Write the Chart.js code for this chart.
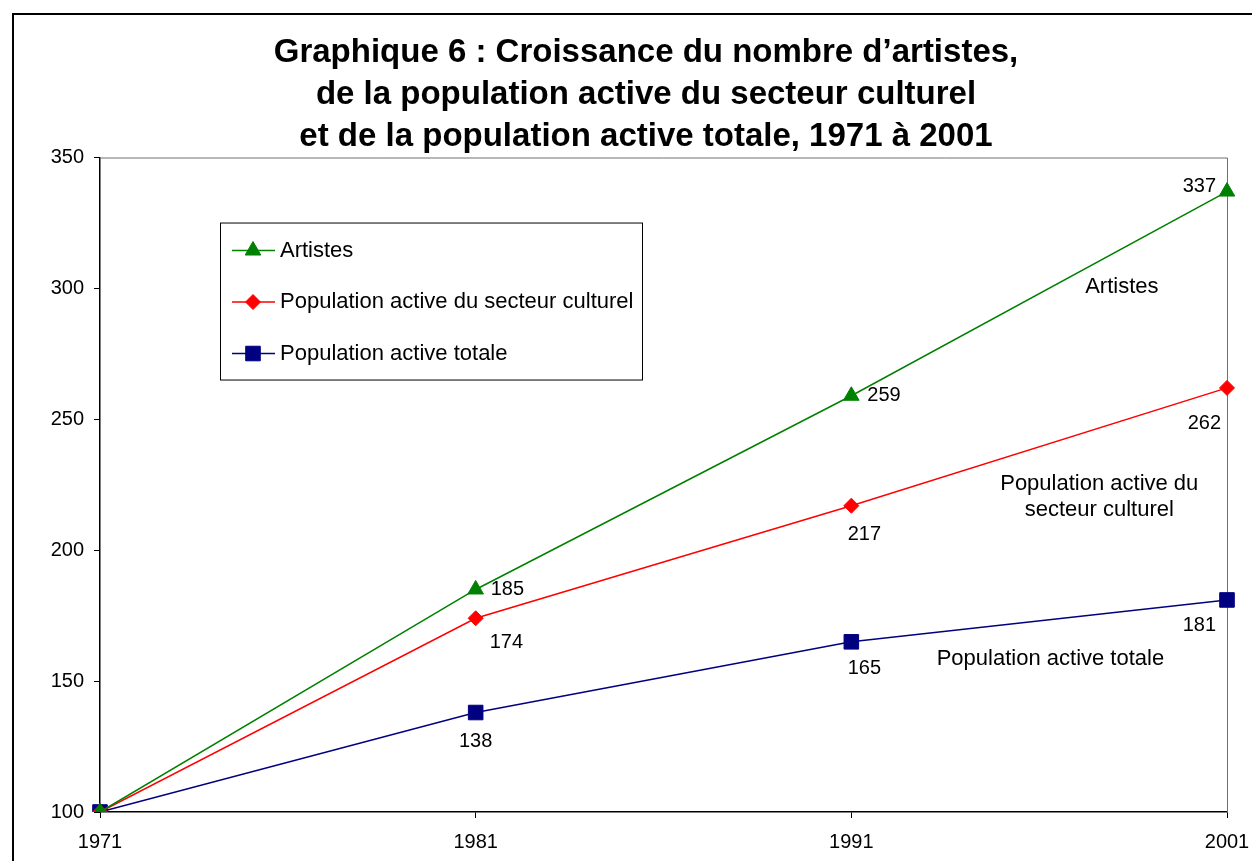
<!DOCTYPE html>
<html lang="fr">
<head>
<meta charset="UTF-8">
<title>Graphique 6 : Croissance du nombre d'artistes</title>
<script src="https://cdn.jsdelivr.net/npm/chart.js"></script>
<style>
  html, body { margin: 0; padding: 0; background: #fff; overflow: hidden; }
  /* outer frame runs off the right and bottom edges like in the original */
  .frame {
    position: absolute;
    left: 12px;
    top: 13px;
    width: 1268px;
    height: 900px;
    border: 2px solid #000;
  }
</style>
</head>
<body>
<div class="frame"><canvas id="chart" width="1268" height="900"></canvas></div>
<script>
// data
const years = ['1971', '1981', '1991', '2001'];
const artistes = [100, 185, 259, 337];
const secteurCulturel = [100, 174, 217, 262];
const populationTotale = [100, 138, 165, 181];
const yMin = 100, yMax = 350, yStep = 50;

const FONT = "'Liberation Sans', Arial, sans-serif";

// where each value label sits relative to its point: [dx, dy, align]
const labelsArtistes = [null, [15, 0, 'left'], [16, 0, 'left'], [-11, -5, 'right']];
const labelsCulturel = [null, [14, 24, 'left'], [13, 29, 'center'], [-6, 36, 'right']];
const labelsTotale = [null, [0, 29, 'center'], [13, 27, 'center'], [-11, 26, 'right']];

// series names written next to the lines (x = category index, y = value)
const lineNames = [
  { lines: ['Artistes'], x: 2.72, y: 300.5 },
  { lines: ['Population active du', 'secteur culturel'], x: 2.66, y: 220.5 },
  { lines: ['Population active totale'], x: 2.53, y: 158.5 }
];

const datasets = [
  {
    label: 'Artistes',
    data: artistes,
    borderColor: '#008000',
    backgroundColor: '#008000',
    pointStyle: 'triangle',
    pointRadius: 9,
    valueLabels: labelsArtistes
  },
  {
    label: 'Population active du secteur culturel',
    data: secteurCulturel,
    borderColor: '#ff0000',
    backgroundColor: '#ff0000',
    pointStyle: 'rectRot',
    pointRadius: 7.5,
    valueLabels: labelsCulturel
  },
  {
    label: 'Population active totale',
    data: populationTotale,
    borderColor: '#000080',
    backgroundColor: '#000080',
    pointStyle: 'rect',
    pointRadius: 10.3,
    valueLabels: labelsTotale
  }
].map(d => Object.assign(d, {
  borderWidth: 1.5,
  pointBorderWidth: 1,
  pointBackgroundColor: d.borderColor,
  pointBorderColor: d.borderColor,
  tension: 0
}));

// the title in the original is centred on the frame, not on the plot
const titleShift = {
  id: 'titleShift',
  afterLayout(chart) {
    if (chart.titleBlock) chart.titleBlock.left = 51;
  }
};

// gray frame on the top and right of the plot area
const plotFrame = {
  id: 'plotFrame',
  beforeDatasetsDraw(chart) {
    const { ctx, chartArea: a } = chart;
    ctx.save();
    ctx.strokeStyle = '#707070';
    ctx.lineWidth = 1;
    ctx.beginPath();
    ctx.moveTo(a.left, a.top + 0.5);
    ctx.lineTo(a.right + 0.5, a.top + 0.5);
    ctx.lineTo(a.right + 0.5, a.bottom);
    ctx.stroke();
    ctx.restore();
  }
};

// numbers beside the points and names beside the lines
const annotations = {
  id: 'annotations',
  afterDatasetsDraw(chart) {
    const { ctx, scales: { x, y } } = chart;
    ctx.save();
    ctx.fillStyle = '#000';
    ctx.textBaseline = 'middle';
    ctx.font = '20px ' + FONT;
    chart.data.datasets.forEach((ds, i) => {
      chart.getDatasetMeta(i).data.forEach((pt, j) => {
        const pos = ds.valueLabels[j];
        if (!pos) return;
        ctx.textAlign = pos[2];
        ctx.fillText(String(ds.data[j]), pt.x + pos[0], pt.y + pos[1]);
      });
    });
    ctx.font = '22px ' + FONT;
    ctx.textAlign = 'center';
    lineNames.forEach(n => {
      const px = x.getPixelForValue(n.x);
      const py = y.getPixelForValue(n.y);
      const lh = 26;
      n.lines.forEach((t, k) => {
        ctx.fillText(t, px, py + (k - (n.lines.length - 1) / 2) * lh);
      });
    });
    ctx.restore();
  }
};

// boxed legend inside the plot area
const boxLegend = {
  id: 'boxLegend',
  afterDraw(chart) {
    const { ctx, chartArea: a } = chart;
    const bx = a.left + 120, by = a.top + 65, bw = 422, bh = 157;
    ctx.save();
    ctx.fillStyle = '#fff';
    ctx.fillRect(bx, by, bw, bh);
    ctx.strokeStyle = '#000';
    ctx.lineWidth = 1;
    ctx.strokeRect(bx + 0.5, by + 0.5, bw, bh);
    ctx.font = '22px ' + FONT;
    ctx.textBaseline = 'middle';
    ctx.textAlign = 'left';
    chart.data.datasets.forEach((ds, i) => {
      const cy = by + 28 + i * 51.5;
      ctx.strokeStyle = ds.borderColor;
      ctx.fillStyle = ds.borderColor;
      ctx.lineWidth = 1.5;
      ctx.beginPath();
      ctx.moveTo(bx + 12, cy);
      ctx.lineTo(bx + 55, cy);
      ctx.stroke();
      ctx.lineWidth = 1;
      Chart.helpers.drawPoint(ctx, {
        pointStyle: ds.pointStyle,
        radius: ds.pointRadius,
        borderWidth: 1,
        rotation: 0
      }, bx + 33, cy);
      ctx.fillStyle = '#000';
      ctx.fillText(ds.label, bx + 60, cy);
    });
    ctx.restore();
  }
};

new Chart(document.getElementById('chart'), {
  type: 'line',
  data: { labels: years, datasets: datasets },
  options: {
    responsive: false,
    devicePixelRatio: 1,
    animation: false,
    layout: { padding: { left: 0, right: 55, top: 0, bottom: 0 } },
    plugins: {
      legend: { display: false },
      tooltip: { enabled: false },
      title: {
        display: true,
        text: [
          'Graphique 6 : Croissance du nombre d\u2019artistes,',
          'de la population active du secteur culturel',
          'et de la population active totale, 1971 \u00e0 2001'
        ],
        color: '#000',
        font: { family: FONT, size: 33, weight: 'bold', lineHeight: 1.273 },
        padding: { top: 16.5, bottom: 0 }
      }
    },
    scales: {
      x: {
        type: 'category',
        offset: false,
        border: { display: true, color: '#000', width: 1.5 },
        grid: { drawOnChartArea: false, drawTicks: true, tickLength: 6, color: '#000' },
        ticks: { color: '#000', font: { family: FONT, size: 20 }, padding: 12, maxRotation: 0 },
        afterFit(scale) { scale.height = 103; }
      },
      y: {
        type: 'linear',
        min: yMin,
        max: yMax,
        border: { display: true, color: '#000', width: 1.5 },
        grid: { drawOnChartArea: false, drawTicks: true, tickLength: 6, color: '#000' },
        ticks: { stepSize: yStep, color: '#000', font: { family: FONT, size: 20 }, padding: 10 },
        afterFit(scale) { scale.width = 86; }
      }
    }
  },
  plugins: [titleShift, plotFrame, annotations, boxLegend]
});
</script>
</body>
</html>
